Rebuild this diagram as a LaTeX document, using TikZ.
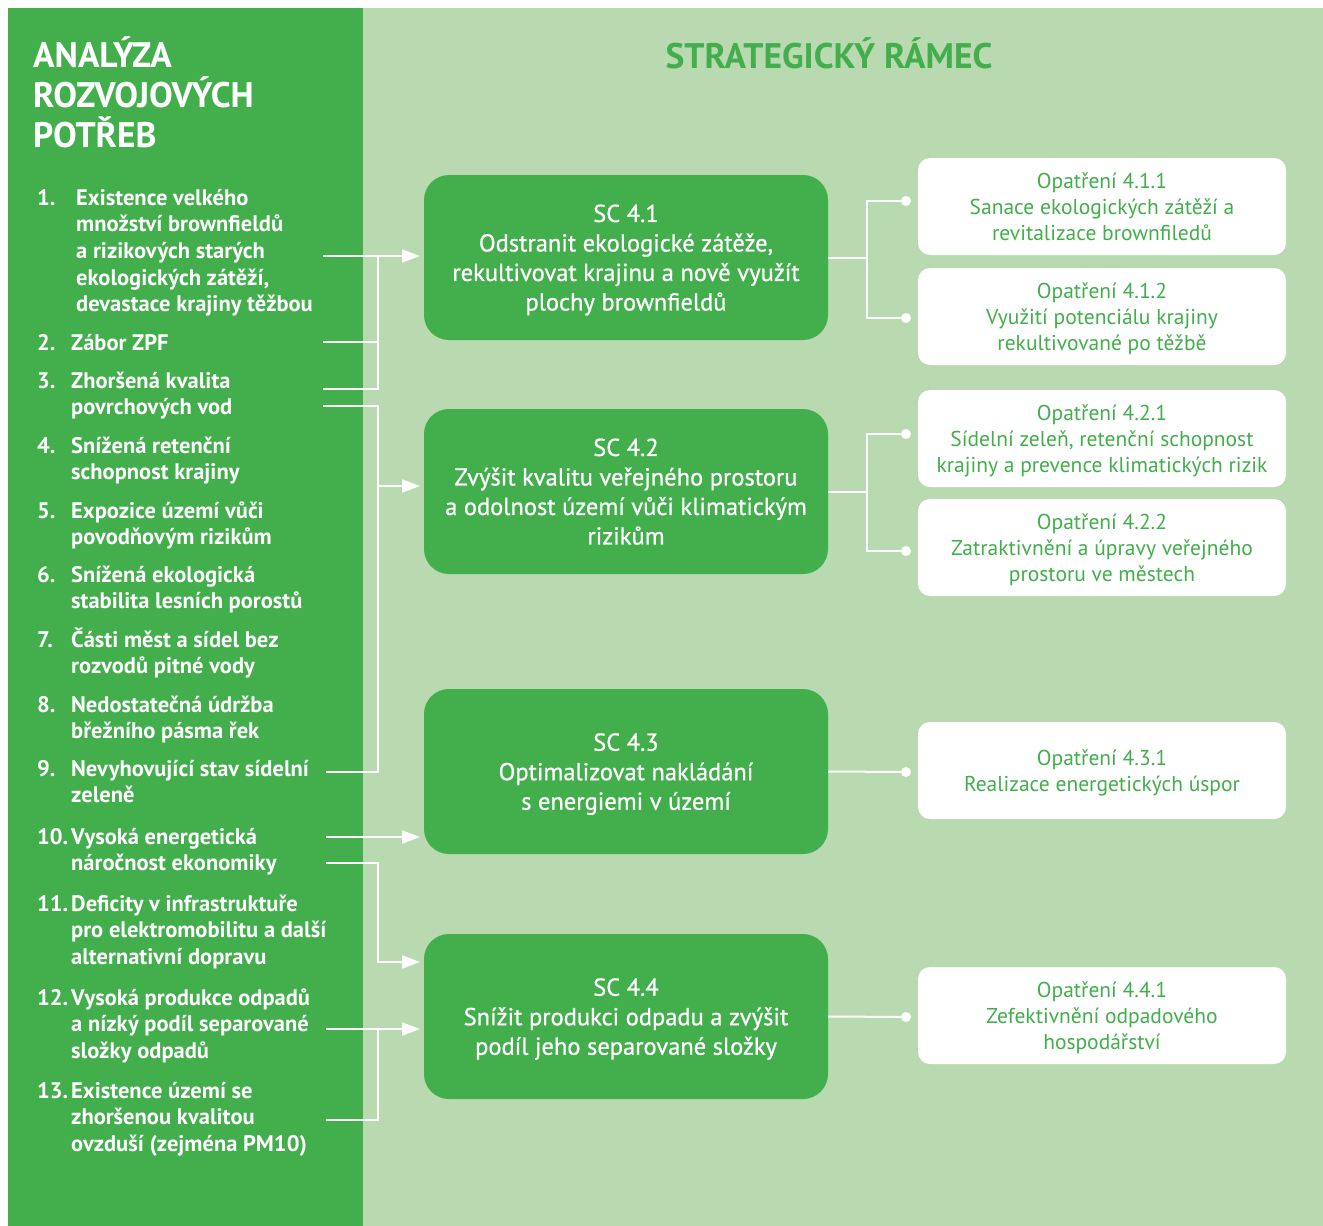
\documentclass[tikz,border=0pt]{standalone}
\usepackage{fontspec}
\setmainfont{PT Sans}
\newfontfamily\scfont[FakeBold=0.8]{PT Sans}
\usepackage{xcolor}
\usetikzlibrary{positioning,arrows.meta}
\definecolor{darkgrn}{RGB}{66,174,76}
\definecolor{lightgrn}{RGB}{185,217,176}

\begin{document}
\begin{tikzpicture}[x=1pt, y=-1pt,
  node distance=13pt,
  head/.style={anchor=base west, align=left, text=white, inner sep=0pt,
              font=\fontsize{35.5}{40}\selectfont\bfseries},
  num/.style={anchor=base west, text=white, inner sep=0pt,
              font=\fontsize{22.5}{26.7}\selectfont\bfseries},
  item/.style={num, align=left},
  sc/.style={fill=darkgrn, rounded corners=25pt, minimum width=404pt, minimum height=165pt,
             outer sep=0pt, text=white, align=center, text depth=-4pt,
             font=\scfont\fontsize{24.5}{29.5}\selectfont},
  opt/.style={fill=white, rounded corners=12pt, minimum width=368pt, minimum height=97pt,
              outer sep=0pt, text=darkgrn, align=center, text depth=0pt,
              font=\fontsize{21.5}{26}\selectfont},
  dot/.style={circle, fill=white, inner sep=0pt, minimum size=10pt},
  link/.style={white, line width=2pt},
  arr/.style={link, -{Triangle[length=18pt,width=13pt]}, shorten >=4pt}]
  \useasboundingbox (0,0) rectangle (1323,1226);
  \fill[darkgrn] (8,8) rectangle (363,1226);
  \fill[lightgrn] (363,8) rectangle (1323,1226);

  % titles (multi-line nodes sit on their last baseline)
  \node[head] (ltitle) at (33,147) {ANALÝZA\\ROZVOJOVÝCH\\POTŘEB};
  \node[head, anchor=base, text=darkgrn] (rtitle) at (829,68) {STRATEGICKÝ RÁMEC};

  % needs
  \node[num] (n1) at (37,205) {1.};
  \node[item] (t1) at (76,311.8) {Existence velkého\\množství brownfieldů\\a rizikových starých\\ekologických zátěží,\\devastace krajiny těžbou};
  \node[num] (n2) at (37,350) {2.};
  \node[item] (t2) at (71,350) {Zábor ZPF};
  \node[num] (n3) at (37,388) {3.};
  \node[item] (t3) at (71,414.7) {Zhoršená kvalita\\povrchových vod};
  \node[num] (n4) at (37,453) {4.};
  \node[item] (t4) at (71,479.7) {Snížená retenční\\schopnost krajiny};
  \node[num] (n5) at (37,518) {5.};
  \node[item] (t5) at (71,544.7) {Expozice území vůči\\povodňovým rizikům};
  \node[num] (n6) at (37,582) {6.};
  \node[item] (t6) at (71,608.7) {Snížená ekologická\\stabilita lesních porostů};
  \node[num] (n7) at (37,647) {7.};
  \node[item] (t7) at (71,673.7) {Části měst a sídel bez\\rozvodů pitné vody};
  \node[num] (n8) at (37,712) {8.};
  \node[item] (t8) at (71,738.7) {Nedostatečná údržba\\břežního pásma řek};
  \node[num] (n9) at (37,776) {9.};
  \node[item] (t9) at (71,802.7) {Nevyhovující stav sídelní\\zeleně};
  \node[num] (n10) at (37,844) {10.};
  \node[item] (t10) at (71,870.7) {Vysoká energetická\\náročnost ekonomiky};
  \node[num] (n11) at (37,911) {11.};
  \node[item] (t11) at (71,964.4) {Deficity v infrastruktuře\\pro elektromobilitu a další\\alternativní dopravu};
  \node[num] (n12) at (37,1005) {12.};
  \node[item] (t12) at (71,1058.4) {Vysoká produkce odpadů\\a nízký podíl separované\\složky odpadů};
  \node[num] (n13) at (37,1098) {13.};
  \node[item] (t13) at (71,1151.4) {Existence území se\\zhoršenou kvalitou\\ovzduší (zejména PM10)};

  % strategic goals
  \node[sc] (sc1) at (626,257.5) {SC 4.1\\Odstranit ekologické zátěže,\\rekultivovat krajinu a nově využít\\plochy brownfieldů};
  \node[sc, below=69pt of sc1] (sc2) {SC 4.2\\Zvýšit kvalitu veřejného prostoru\\a odolnost území vůči klimatickým\\rizikům};
  \node[sc, below=115pt of sc2] (sc3) {SC 4.3\\Optimalizovat nakládání\\s energiemi v území};
  \node[sc, below=80pt of sc3] (sc4) {SC 4.4\\Snížit produkci odpadu a zvýšit\\podíl jeho separované složky};

  % measures
  \node[opt] (o411) at (1102,206.5) {Opatření 4.1.1\\Sanace ekologických zátěží a\\revitalizace brownfiledů};
  \node[opt, below=of o411] (o412) {Opatření 4.1.2\\Využití potenciálu krajiny\\rekultivované po těžbě};
  \node[opt, below=25pt of o412] (o421) {Opatření 4.2.1\\Sídelní zeleň, retenční schopnost\\krajiny a prevence klimatických rizik};
  \node[opt, below=12pt of o421] (o422) {Opatření 4.2.2\\Zatraktivnění a úpravy veřejného\\prostoru ve městech};
  \node[opt, below=126pt of o422] (o431) {Opatření 4.3.1\\Realizace energetických úspor};
  \node[opt, below=148pt of o431] (o441) {Opatření 4.4.1\\Zefektivnění odpadového\\hospodářství};

  \node[dot] (p411) at (906,201) {};
  \node[dot] (p412) at (906,318) {};
  \node[dot] (p421) at (906,434) {};
  \node[dot] (p422) at (906,551) {};
  \node[dot] (p431) at (906,772) {};
  \node[dot] (p441) at (906,1017) {};

  % start points of the connectors
  \coordinate (s1) at (323,256);
  \coordinate (s2) at (323,342);
  \coordinate (s3) at (323,389);
  \coordinate (s3b) at (323,406);
  \coordinate (s9) at (326,772);
  \coordinate (s10) at (326,837);
  \coordinate (s10b) at (326,863);
  \coordinate (s12) at (326,1029);
  \coordinate (s13) at (326,1120);
  \coordinate (b1) at (378,256);
  \coordinate (b2) at (378,772);
  \coordinate (a2) at (378,486);
  \coordinate (b3) at (378,962);
  \coordinate (b4) at (378,1029);

  \draw[arr] (s1) -- (s1 -| sc1.west);
  \draw[link] (s2) -| (b1);
  \draw[link] (s3) -| (b1);
  \draw[link] (s3b) -| (b2) -- (s9);
  \draw[arr] (a2) -- (a2 -| sc2.west);
  \draw[arr] (s10) -- (s10 -| sc3.west);
  \draw[arr] (s10b) -| (b3) -- (b3 -| sc4.west);
  \draw[arr] (s12) -- (s12 -| sc4.west);
  \draw[link] (s13) -| (b4);

  \draw[link] (sc1.east) -- ++(39,0) coordinate (j1) |- (p411);
  \draw[link] (j1) |- (p412);
  \draw[link] (sc2.east) -- ++(39,0) coordinate (j2) |- (p421);
  \draw[link] (j2) |- (p422);
  \draw[link] (sc3.east) -- (p431);
  \draw[link] (sc4.east) -- (p441);
\end{tikzpicture}
\end{document}
